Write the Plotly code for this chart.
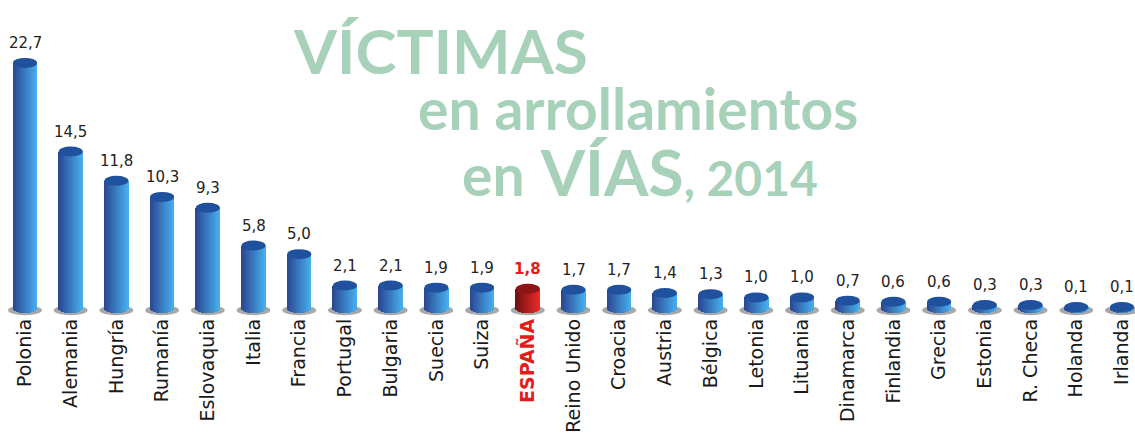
import numpy as np
import plotly.graph_objects as go

countries = ["Polonia", "Alemania", "Hungría", "Rumanía", "Eslovaquia", "Italia", "Francia",
             "Portugal", "Bulgaria", "Suecia", "Suiza", "ESPAÑA", "Reino Unido", "Croacia",
             "Austria", "Bélgica", "Letonia", "Lituania", "Dinamarca", "Finlandia", "Grecia",
             "Estonia", "R. Checa", "Holanda", "Irlanda"]
values = [22.7, 14.5, 11.8, 10.3, 9.3, 5.8, 5.0, 2.1, 2.1, 1.9, 1.9, 1.8, 1.7, 1.7,
          1.4, 1.3, 1.0, 1.0, 0.7, 0.6, 0.6, 0.3, 0.3, 0.1, 0.1]
highlight = "ESPAÑA"

W, H = 1135, 442
MT, MB = 0, 123
YR = [-1.0, 28.52]
XR = [-0.547, 24.284]
ppu = (H - MT - MB) / (YR[1] - YR[0])

idx = list(range(len(countries)))
value_text = [f"{v:.1f}".replace(".", ",") for v in values]
is_hl = [c == highlight for c in countries]

fig = go.Figure()

# cylinder bodies: vertical colour slices with curved bottoms
a = 0.2625       # half width in x units
b = 5.0          # ellipse half height in px
n = 16
w = 2 * a / n
blue0, blue1 = np.array([44, 72, 148]), np.array([70, 172, 235])
red0, red1 = np.array([115, 18, 18]), np.array([232, 40, 40])
for k in range(n):
    t = k / (n - 1)
    dx = -a + w * (k + 0.5)
    base = -b * np.sqrt(max(0.0, 1 - (dx / a) ** 2)) / ppu
    cb = blue0 + (blue1 - blue0) * t
    cr = red0 + (red1 - red0) * t
    cols = [f"rgb({int(c[0])},{int(c[1])},{int(c[2])})" for c in
            [cr if h else cb for h in is_hl]]
    fig.add_trace(go.Bar(
        x=idx, y=[v - base for v in values], base=base,
        width=w * 1.15, offset=-a + k * w,
        marker=dict(color=cols, line=dict(width=0)),
        hoverinfo="skip", showlegend=False))

shapes = []
for i, v in enumerate(values):
    # floor shadow
    shapes.append(dict(type="circle", xref="x", yref="y", layer="below",
                       x0=i - 0.37, x1=i + 0.37, ysizemode="pixel", yanchor=0,
                       y0=-7, y1=3, fillcolor="#a8a8a8", line=dict(width=0)))
    # top face
    shapes.append(dict(type="circle", xref="x", yref="y",
                       x0=i - a, x1=i + a, ysizemode="pixel", yanchor=v,
                       y0=-b, y1=b,
                       fillcolor="#8c1616" if is_hl[i] else "#1f519f",
                       line=dict(width=0)))

annotations = []
for i, v in enumerate(values):
    hl = is_hl[i]
    annotations.append(dict(
        x=i, y=v, xref="x", yref="y", yshift=20, showarrow=False,
        text=f"<b>{value_text[i]}</b>" if hl else value_text[i],
        font=dict(family="DejaVu Sans", size=15, color="#e31b1b" if hl else "#222222")))

green = "#a8d1ba"
def py(p):
    return (H - MB - p) / (H - MT - MB)

annotations += [
    dict(xref="paper", yref="paper", x=291 / W, y=py(50), xanchor="left", yanchor="middle",
         showarrow=False, text="<b>VÍCTIMAS</b>",
         font=dict(family="Lato", size=62, color=green)),
    dict(xref="paper", yref="paper", x=416 / W, y=py(108), xanchor="left", yanchor="middle",
         showarrow=False, text="<b>en arrollamientos</b>",
         font=dict(family="Lato", size=57, color=green)),
    dict(xref="paper", yref="paper", x=460 / W, y=py(170), xanchor="left", yanchor="middle",
         showarrow=False,
         text="<b>en<span style='font-size:66px'> </span><span style='font-size:64px'>VÍAS</span>"
              "<span style='font-size:48px'>, 2014</span></b>",
         font=dict(family="Lato", size=57, color=green)),
]

ticktext = [f"<b><span style='color:#e31b1b'>{c}</span></b>" if c == highlight else c
            for c in countries]

fig.update_layout(
    width=W, height=H,
    margin=dict(l=0, r=0, t=MT, b=MB, pad=0, autoexpand=False),
    paper_bgcolor="white", plot_bgcolor="white",
    barmode="overlay", bargap=0,
    shapes=shapes, annotations=annotations,
    xaxis=dict(range=XR, tickmode="array", tickvals=idx, ticktext=ticktext, automargin=False,
               tickangle=-90, showgrid=False, zeroline=False, showline=False, ticks="",
               ticklabelstandoff=-5,
               tickfont=dict(family="DejaVu Sans", size=19, color="#1a1a1a")),
    yaxis=dict(range=YR, visible=False, showgrid=False, zeroline=False, automargin=False),
)

fig.write_html("out.html", config={"displayModeBar": False},
               post_script="document.body.style.margin='0';document.body.style.overflow='hidden';")
